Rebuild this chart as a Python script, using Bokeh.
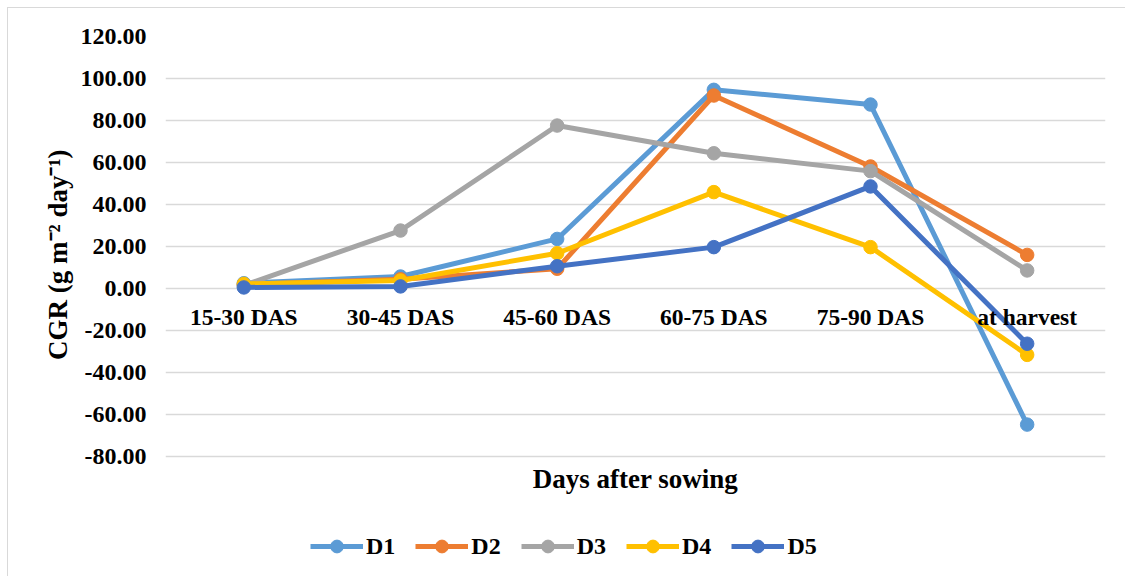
from bokeh.plotting import figure
from bokeh.models import (FactorRange, Range1d, FixedTicker, NumeralTickFormatter,
                          Legend, LegendItem, Title, Label, ColumnDataSource)
from bokeh.embed import file_html
from bokeh.resources import INLINE

# ---- data ----
stages = ["15-30 DAS", "30-45 DAS", "45-60 DAS", "60-75 DAS", "75-90 DAS", "at harvest"]
d1 = [2.5, 5.7, 23.6, 94.6, 87.6, -64.8]
d2 = [1.8, 4.4, 9.4, 91.9, 58.1, 16.0]
d3 = [1.5, 27.6, 77.6, 64.4, 55.9, 8.6]
d4 = [2.2, 3.8, 16.8, 45.9, 19.7, -31.6]
d5 = [0.5, 1.0, 10.6, 19.7, 48.6, -26.3]
series_names = ["D1", "D2", "D3", "D4", "D5"]
series_values = [d1, d2, d3, d4, d5]
colors = ["#5B9BD5", "#ED7D31", "#A5A5A5", "#FFC000", "#4472C4"]
y_ticks = [-80, -60, -40, -20, 0, 20, 40, 60, 80, 100, 120]

FONT = "Liberation Serif"

# frame spans the grid (-80..120 over 420 px) plus the area below used for the
# axis title and legend
PX_PER_UNIT = 420 / 200
y_bottom = -80 - 121 / PX_PER_UNIT

p = figure(width=1118, height=569,
           x_range=FactorRange(*stages), y_range=Range1d(y_bottom, 120),
           output_backend="svg", toolbar_location=None,
           min_border_left=157, min_border_right=21,
           min_border_top=28, min_border_bottom=0)
p.outline_line_color = None
p.styles = {"margin": "7px 0 0 7px",
            "border-top": "1px solid #d9d9d9", "border-left": "1px solid #d9d9d9"}

# grid
p.xgrid.visible = False
p.ygrid.ticker = FixedTicker(ticks=y_ticks)
p.ygrid.grid_line_color = "#d9d9d9"
p.ygrid.grid_line_width = 1.5

# y axis
yax = p.yaxis[0]
yax.ticker = FixedTicker(ticks=y_ticks)
yax.formatter = NumeralTickFormatter(format="0.00")
yax.axis_line_color = None
yax.major_tick_line_color = None
yax.minor_tick_line_color = None
yax.major_tick_out = 0
yax.major_label_standoff = 19
yax.major_label_text_font = FONT
yax.major_label_text_font_style = "bold"
yax.major_label_text_font_size = "24px"
yax.major_label_text_color = "black"

p.add_layout(Title(text="CGR (g m\u207b\u00b2 day\u207b\u00b9)", align="right",
                   text_font=FONT, text_font_style="bold", text_font_size="27px",
                   text_color="black", standoff=10, offset=113), "left")

# x axis at y = 0
xax = p.xaxis[0]
xax.fixed_location = 0
xax.axis_line_color = None
xax.major_tick_line_color = None
xax.minor_tick_line_color = None
xax.major_tick_out = 0
xax.major_label_standoff = 15
xax.major_label_text_font = FONT
xax.major_label_text_font_style = "bold"
xax.major_label_text_font_size = "23.5px"
xax.major_label_text_color = "black"

p.add_layout(Label(x=3, y=-80, y_offset=-22, text="Days after sowing",
                   text_align="center", text_baseline="middle", text_font=FONT,
                   text_font_style="bold", text_font_size="27px",
                   text_color="black"))

items = []
for name, vals, col in zip(series_names, series_values, colors):
    src = ColumnDataSource(dict(x=stages, y=vals))
    ln = p.line("x", "y", source=src, line_color=col, line_width=5)
    sc = p.scatter("x", "y", source=src, marker="circle", size=13.5,
                   fill_color=col, line_color=col)
    items.append(LegendItem(label=name, renderers=[ln, sc]))

legend = Legend(items=items, location=(145, 15), orientation="horizontal",
                glyph_width=53, glyph_height=32, label_standoff=3, spacing=20,
                padding=5, margin=0, border_line_color=None,
                background_fill_alpha=0,
                label_text_font=FONT, label_text_font_style="bold",
                label_text_font_size="24px", label_text_color="black")
p.add_layout(legend, "center")

open("out.html", "w").write(file_html(p, INLINE))
